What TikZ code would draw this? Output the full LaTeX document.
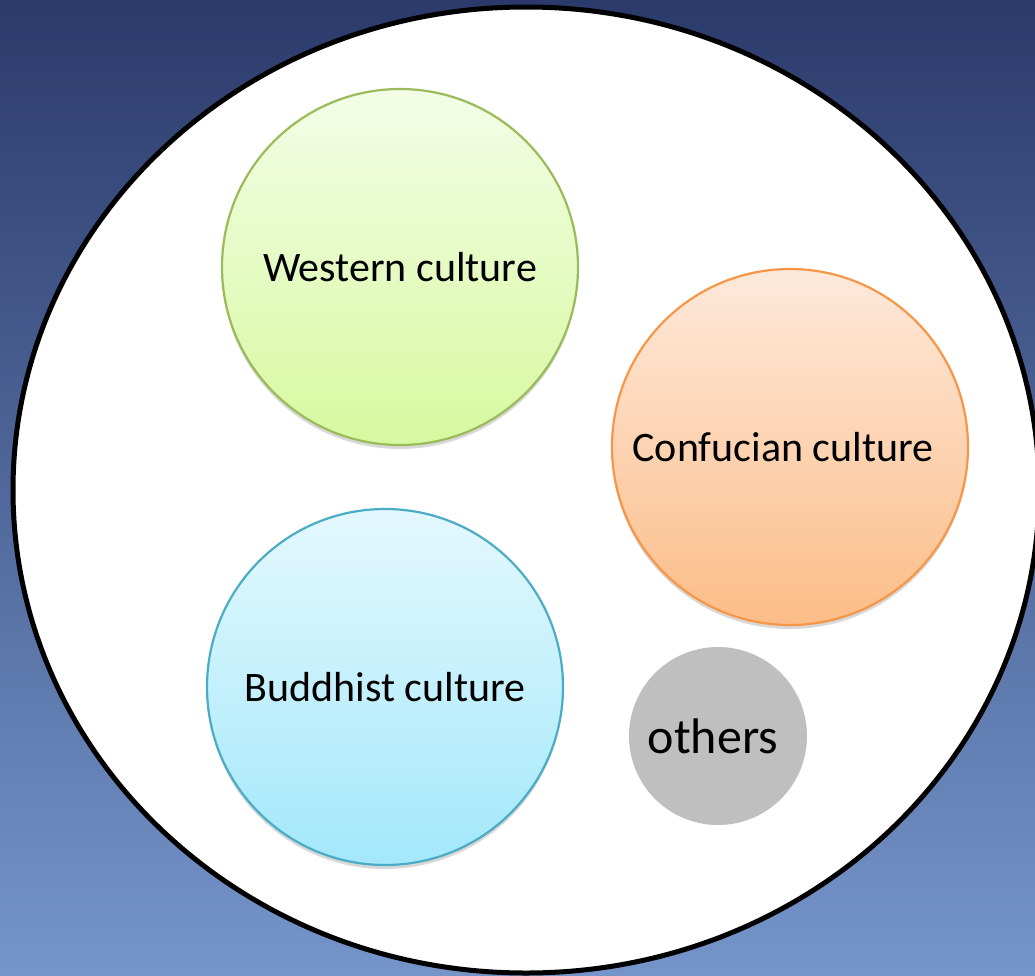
\documentclass[tikz,border=0pt]{standalone}
\usepackage{fontspec}
\setmainfont{Carlito}
\usepackage{xcolor}
\usetikzlibrary{shapes.geometric, shadows}

\definecolor{bgtop}{HTML}{2B3A6B}
\definecolor{bgbottom}{HTML}{7595CA}
\definecolor{westline}{HTML}{9BBB59}
\definecolor{westtop}{HTML}{F3FDE7}
\definecolor{westbottom}{HTML}{D7F9A0}
\definecolor{confline}{HTML}{F79646}
\definecolor{conftop}{HTML}{FDE9DB}
\definecolor{confbottom}{HTML}{FCBD88}
\definecolor{budline}{HTML}{4BACC6}
\definecolor{budtop}{HTML}{E4F8FE}
\definecolor{budbottom}{HTML}{A3E8FA}
\definecolor{othergray}{HTML}{BFBFBF}

\tikzset{
  culture/.style={circle, minimum size=178pt, line width=1.1pt, inner sep=0pt,
    font=\fontsize{21}{25}\selectfont,
    drop shadow={opacity=0.3, shadow xshift=0pt, shadow yshift=-2pt}},
}

\begin{document}
\begin{tikzpicture}[x=0.5pt, y=-0.5pt]
  % Background
  \useasboundingbox (0,0) rectangle (1035,976);
  \clip (0,0) rectangle (1035,976);
  \shade[top color=bgtop, bottom color=bgbottom] (0,0) rectangle (1035,976);

  % Nodes
  \node[ellipse, draw, fill=white, line width=2.5pt, minimum width=513pt,
        minimum height=483pt] (world) at (526,490) {};

  \node[culture, draw=westline, top color=westtop, bottom color=westbottom]
    (west) at (400,267) {Western culture};
  \node[culture, draw=confline, top color=conftop, bottom color=confbottom]
    (conf) at (790,447) {\hspace*{-7pt}Confucian culture};
  \node[culture, draw=budline, top color=budtop, bottom color=budbottom]
    (bud) at (385,687) {Buddhist culture};
  \node[circle, fill=othergray, minimum size=89pt, inner sep=0pt,
        font=\fontsize{25}{29}\selectfont] (others) at (718,736)
    {\hspace*{-5pt}others};
\end{tikzpicture}
\end{document}
